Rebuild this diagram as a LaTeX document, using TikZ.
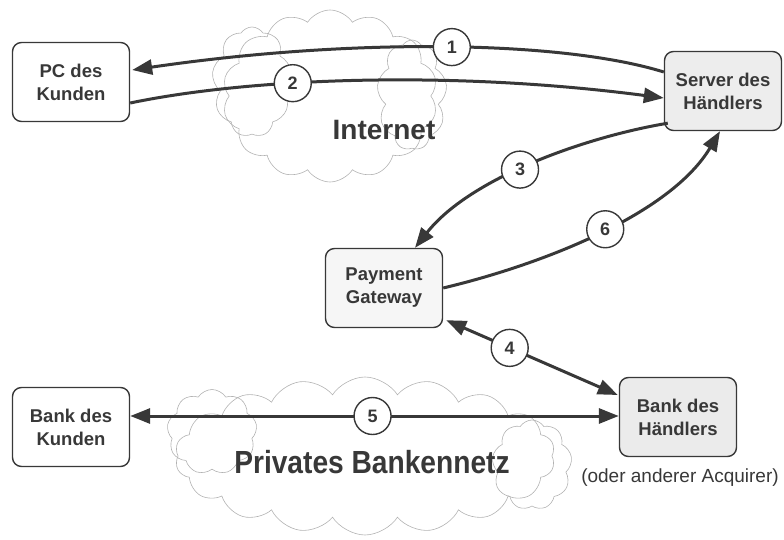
\documentclass[tikz,border=0pt]{standalone}
\usepackage{fontspec}
\usepackage{graphicx}
\setmainfont{Liberation Sans}
\usetikzlibrary{shapes.symbols,arrows.meta,calc}

\definecolor{ink}{HTML}{383838}

\tikzset{
  >={Triangle[length=20pt,width=15pt]},
  box/.style={draw=ink, line width=1.4pt, rounded corners=9pt,
    minimum width=117pt, minimum height=79pt, align=center, text=ink,
    font=\fontsize{18.5}{23}\selectfont\bfseries},
  num/.style={circle, draw=ink, line width=1.4pt, fill=white,
    minimum size=37pt, inner sep=0pt, text=ink,
    font=\fontsize{18}{18}\selectfont\bfseries},
  flow/.style={line width=3pt, draw=ink, ->},
  twoway/.style={line width=3pt, draw=ink, <->},
  puff/.style={cloud, cloud ignores aspect, cloud puffs=#1, cloud puff arc=115,
    draw=gray!60, line width=0.6pt, inner sep=0pt},
  puff/.default=13
}

\begin{document}
\begin{tikzpicture}[x=1pt,y=-1pt]
  \useasboundingbox (0,0) rectangle (784,540);

  % network clouds
  \node[puff=14, minimum width=215pt, minimum height=172pt] (cl1) at (330,96) {};
  \node[puff=9, minimum width=80pt, minimum height=110pt] (cl2) at (252,82) {};
  \node[puff=9, minimum width=70pt, minimum height=110pt] (cl3) at (412,95) {};
  \node[puff=18, minimum width=380pt, minimum height=158pt] (cl4) at (365,456) {};
  \node[puff=9, minimum width=90pt, minimum height=85pt] (cl5) at (212,432) {};
  \node[puff=9, minimum width=80pt, minimum height=90pt] (cl6) at (532,465) {};

  \node[text=ink, font=\fontsize{28}{28}\selectfont\bfseries] (inet) at (384,130) {Internet};
  \node[text=ink, font=\fontsize{32}{32}\selectfont\bfseries] (pbn) at (372,462)
    {\scalebox{0.88}[1]{Privates Bankennetz}};
  \node[text=ink, font=\fontsize{19}{19}\selectfont] (acq) at (680,478)
    {(oder anderer Acquirer)};

  % parties
  \node[box] (pc) at (71,82) {PC des\\Kunden};
  \node[box, fill=gray!14] (srv) at (723,91) {Server des\\Händlers};
  \node[box, fill=gray!7] (gw) at (384,288) {Payment\\Gateway};
  \node[box] (bk) at (71,427) {Bank des\\Kunden};
  \node[box, fill=gray!16] (bh) at (678,417) {Bank des\\Händlers};

  % message flows
  \draw[flow] ($(srv.west)+(0,-19)$) .. controls (560,40) and (350,38) ..
    ($(pc.east)+(2,-12)$) node[num, pos=0.48] (c1) {1};
  \draw[flow] ($(pc.east)+(0,21)$) .. controls (250,78) and (450,70) ..
    ($(srv.west)+(0,7)$) node[num, pos=0.37] (c2) {2};
  \draw[flow] ($(srv.south west)+(4,-8)$) .. controls (585,137) and (470,178) ..
    ($(gw.north)+(31,0)$) node[num, pos=0.54] (c3) {3};
  \draw[twoway] ($(gw.south east)+(3,-8)$) -- ($(bh.west)+(-1,-22)$)
    node[num, pos=0.37] (c4) {4};
  \draw[twoway] ($(bk.east)+(0,-11)$) -- ($(bh.west)+(0,-1)$)
    node[num, pos=0.496] (c5) {5};
  \draw[flow] (gw.east) .. controls (540,265) and (670,215) ..
    ($(srv.south)+(-3,0)$) node[num, pos=0.52] (c6) {6};
\end{tikzpicture}
\end{document}
